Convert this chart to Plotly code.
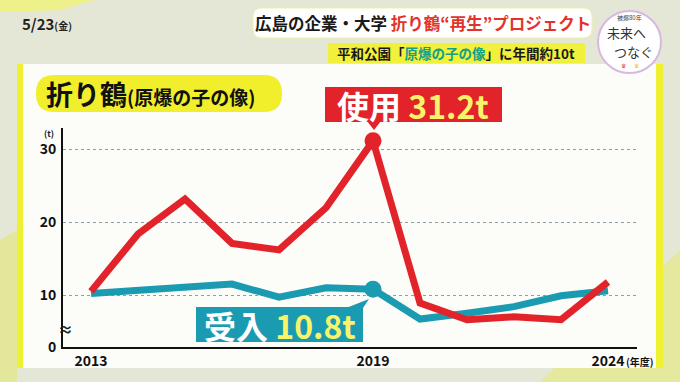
import plotly.graph_objects as go

# ---------------- data ----------------
years = list(range(2013, 2025))
used_t = [10.5, 18.4, 23.2, 17.1, 16.2, 22.0, 31.2, 8.9, 6.6, 7.0, 6.6, 11.8]        # 使用
received_t = [10.2, 10.6, 11.0, 11.5, 9.7, 11.0, 10.8, 6.7, 7.5, 8.4, 9.9, 10.6]   # 受入
y_tick_values = [30, 20, 10]
x_tick_years = [2013, 2019, 2024]
highlight_year = 2019

# ---------------- layout geometry ----------------
W, H = 680, 382
L, R, T, B = 63, 43, 128, 35
PW, PH = W - L - R, H - T - B
Y_BREAK, Y_TOP = 2.85, 32.97          # axis is broken below 10 (shown as "0")
X_MIN, X_MAX = 2012.404, 2024.617
FONT = "Noto Sans CJK JP"
RED, TEAL, YEL = "#e2232a", "#1b9bb2", "#f7f46a"


def fx(px):
    return (px - L) / PW


def fy(py):
    return (H - B - py) / PH


def rrect(x0, y0, x1, y1, r):
    pts = [("M", (x0 + r, y0)), ("L", (x1 - r, y0)), ("Q", (x1, y0), (x1, y0 + r)),
           ("L", (x1, y1 - r)), ("Q", (x1, y1), (x1 - r, y1)), ("L", (x0 + r, y1)),
           ("Q", (x0, y1), (x0, y1 - r)), ("L", (x0, y0 + r)), ("Q", (x0, y0), (x0 + r, y0))]
    s = ""
    for item in pts:
        s += item[0] + " " + " ".join(f"{fx(p[0]):.5f},{fy(p[1]):.5f}" for p in item[1:]) + " "
    return s + "Z"


def poly(points):
    return "M " + " L ".join(f"{fx(a):.5f},{fy(b):.5f}" for a, b in points) + " Z"


shapes = []


def add_path(path, fill, layer="above", line_color=None, line_width=0):
    shapes.append(dict(type="path", xref="paper", yref="paper", path=path,
                       fillcolor=fill, layer=layer,
                       line=dict(color=line_color or fill, width=line_width)))


# background decoration
add_path(poly([(0, 240), (17, 230), (17, 382), (0, 382)]), "#e2e79c", "below")
add_path(poly([(540, 382), (680, 250), (680, 382)]), "#e4e99e", "below")
add_path(poly([(0, 0), (95, 0), (60, 10), (0, 12)]), "#eef08a", "below")
# white panel with yellow side borders
add_path(poly([(18, 64), (660, 64), (660, 368), (18, 368)]), "#fcfcf9", "below")
add_path(poly([(17, 64), (23, 64), (23, 368), (17, 368)]), "#eef030", "below")
add_path(poly([(656, 64), (663, 64), (663, 368), (656, 368)]), "#eef030", "below")

# header
add_path(rrect(253, 8, 592, 38, 9), "#ffffff", line_color="#f2f2a0", line_width=1)
add_path(poly([(328, 43), (585, 43), (585, 63), (328, 63)]), "#f1f03a")
# logo
shapes.append(dict(type="circle", xref="paper", yref="paper",
                   x0=fx(598), x1=fx(661), y0=fy(73), y1=fy(11),
                   fillcolor="#ffffff", line=dict(color="#d8b8e0", width=2)))
# title pill
add_path(rrect(36, 75, 282, 112, 18), "#f1ef2c")

# red callout
add_path(poly([(325, 87), (502, 87), (502, 122), (325, 122)]), RED)
add_path(poly([(367, 121), (381, 121), (374, 130)]), RED)
# teal callout
add_path(poly([(196, 307), (363, 307), (363, 342), (196, 342)]), TEAL)
add_path(poly([(346, 308), (363, 308), (369, 299)]), TEAL)

annotations = []


def ann(px, py, text, size, color="#1a1a1a", xanchor="center", pad=1):
    annotations.append(dict(xref="paper", yref="paper", x=fx(px), y=fy(py), text=text,
                            showarrow=False, xanchor=xanchor, yanchor="middle",
                            borderpad=pad,
                            font=dict(family=FONT, size=size, color=color)))


idx = years.index(highlight_year)

ann(20, 23, "<b>5/23<span style='font-size:10px'>(金)</span></b>", 15, "#222", "left")
ann(423, 23, "<b>広島の企業・大学 <span style='color:#e2332b'>折り鶴“再生”プロジェクト</span></b>", 16.5)
ann(456, 53, "<b>平和公園「<span style='color:#14a085'>原爆の子の像</span>」に年間約10t</b>", 13.5)
ann(629, 17, "被爆80年", 6, "#444", pad=0)
ann(626, 32, "未来へ", 13, "#333", pad=0)
ann(633, 51, "つなぐ", 13, "#333", pad=0)
ann(623, 66, "♛", 6, "#e04050", pad=0)
ann(636, 66, "♛", 6, "#f0c020", pad=0)
ann(44, 93, "<b>折り鶴<span style='font-size:19px'>(原爆の子の像)</span></b>", 27, "#111", "left")
ann(413, 105, f"<b><span style='color:#ffffff'>使用</span> <span style='color:{YEL}'>{used_t[idx]}t</span></b>", 32)
ann(280, 325, f"<b><span style='color:#ffffff'>受入</span> <span style='color:{YEL}'>{received_t[idx]}t</span></b>", 32)
ann(49, 133, "<b>(t)</b>", 8.5)
ann(65, 328, "<b>≈</b>", 15)
ann(624, 361, "<b>(年度)</b>", 10, "#111", "left")

fig = go.Figure()
fig.add_trace(go.Scatter(x=years, y=received_t, mode="lines",
                         line=dict(color=TEAL, width=7), hoverinfo="skip"))
fig.add_trace(go.Scatter(x=years, y=used_t, mode="lines",
                         line=dict(color=RED, width=7), hoverinfo="skip"))
fig.add_trace(go.Scatter(x=[years[idx]], y=[received_t[idx]], mode="markers",
                         marker=dict(color=TEAL, size=17), hoverinfo="skip"))
fig.add_trace(go.Scatter(x=[years[idx]], y=[used_t[idx]], mode="markers",
                         marker=dict(color=RED, size=17), hoverinfo="skip"))

fig.update_layout(
    width=W, height=H, margin=dict(l=L, r=R, t=T, b=B),
    paper_bgcolor="#e5e7d6", plot_bgcolor="rgba(0,0,0,0)",
    showlegend=False, shapes=shapes, annotations=annotations,
    font=dict(family=FONT),
    xaxis=dict(range=[X_MIN, X_MAX], tickvals=x_tick_years,
               ticktext=[str(v) for v in x_tick_years], showline=True,
               linecolor="#111", linewidth=2, showgrid=False, zeroline=False, ticks="",
               tickfont=dict(family=FONT, size=14, color="#111", weight="bold")),
    yaxis=dict(range=[Y_BREAK, Y_TOP], tickvals=[Y_BREAK] + y_tick_values,
               ticktext=["0"] + [str(v) for v in y_tick_values], showline=True,
               linecolor="#111", linewidth=2, showgrid=True, gridcolor="#8d9ea8",
               griddash="dot", gridwidth=1.2, zeroline=False, ticks="",
               ticklabelstandoff=2,
               tickfont=dict(family=FONT, size=14, color="#111", weight="bold")),
)

fig.write_html("out.html", config={"displayModeBar": False},
               post_script="document.body.style.margin='0px';")
